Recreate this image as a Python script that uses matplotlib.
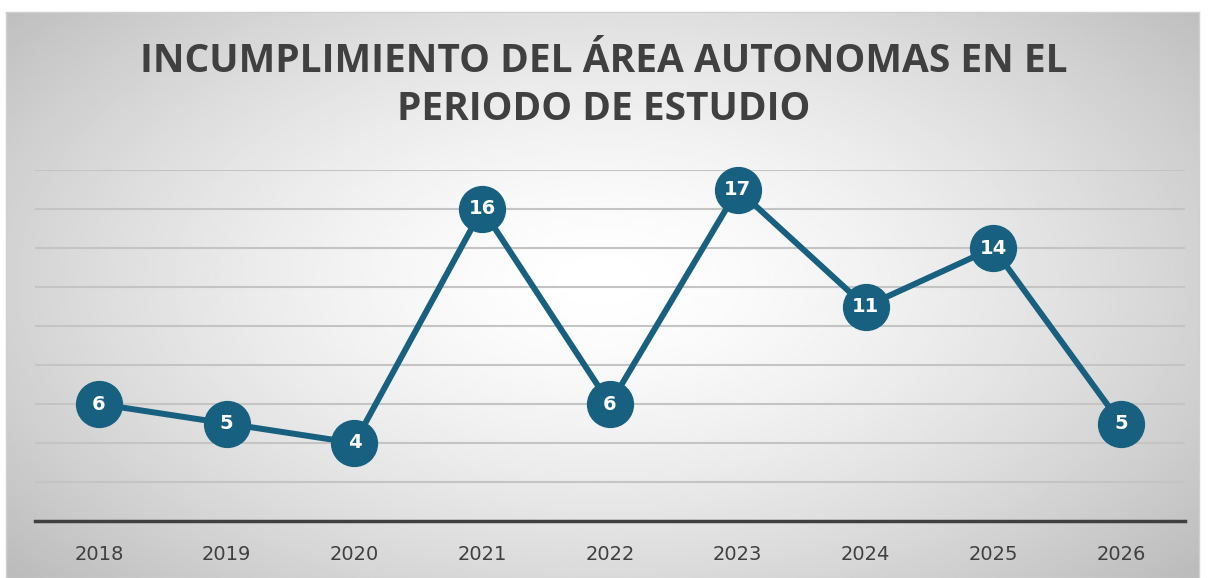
import numpy as np
import matplotlib
matplotlib.use('Agg')
import matplotlib.pyplot as plt

years = ['2018', '2019', '2020', '2021', '2022', '2023', '2024', '2025', '2026']
values = [6, 5, 4, 16, 6, 17, 11, 14, 5]
title = 'INCUMPLIMIENTO DEL ÁREA AUTONOMAS EN EL\nPERIODO DE ESTUDIO'

W, H = 1208, 578
fig = plt.figure(figsize=(W / 100, H / 100), dpi=100)

# radial gradient background
bg = fig.add_axes([6 / W, 0, (1199 - 6) / W, (578 - 12) / H])
gx, gy = np.meshgrid(np.linspace(-1, 1, 400), np.linspace(-1, 1, 200))
r = np.sqrt((gx / 1.1) ** 2 + ((gy + 0.05) / 1.3) ** 2)
shade = 1.0 - 0.2 * np.clip(r, 0, 1.2) ** 1.5
bg.imshow(shade, cmap='gray', vmin=0, vmax=1, aspect='auto', extent=[0, 1, 0, 1])
bg.set_xticks([])
bg.set_yticks([])
for s in bg.spines.values():
    s.set_color('#d0d0d0')
    s.set_linewidth(1)

ax = fig.add_axes([35 / W, 1 - 521 / H, (1185 - 35) / W, (521 - 170) / H])
ax.patch.set_alpha(0)
x = np.arange(len(years))
ax.plot(x, values, color='#17607f', linewidth=4.3, marker='o', markersize=33,
        clip_on=False, zorder=3)
for xi, v in zip(x, values):
    ax.text(xi, v, str(v), color='white', fontsize=14, fontweight='bold',
            ha='center', va='center', zorder=4, family='DejaVu Sans')

ax.set_xlim(-0.5, len(years) - 0.5)
ax.set_ylim(0, 18)
ax.set_yticks(range(2, 19, 2))
ax.yaxis.grid(True, color='#c4c4c4', linewidth=1.5)
ax.set_axisbelow(True)
ax.tick_params(axis='y', left=False, labelleft=False)
ax.set_xticks(x)
ax.set_xticklabels(years, fontsize=14, color='#404040')
ax.tick_params(axis='x', length=0, pad=17)
for side in ['top', 'left', 'right']:
    ax.spines[side].set_visible(False)
ax.spines['bottom'].set_color('#404040')
ax.spines['bottom'].set_linewidth(2.5)

fig.text(0.5, 1 - 85 / H, title, ha='center', va='center', fontsize=28,
         fontweight='bold', color='#404040', family='Open Sans', linespacing=1.3)

fig.savefig('out.png', dpi=100)
